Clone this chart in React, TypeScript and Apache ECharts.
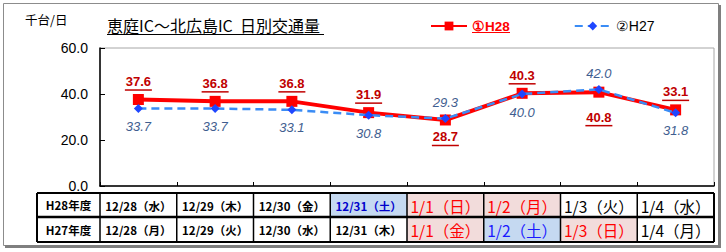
import React, { useEffect, useRef } from "react";
import * as echarts from "echarts";

const categories = ["12/28", "12/29", "12/30", "12/31", "1/1", "1/2", "1/3", "1/4"];
const h28Values = [37.6, 36.8, 36.8, 31.9, 28.7, 40.3, 40.8, 33.1];
const h27Values = [33.7, 33.7, 33.1, 30.8, 29.3, 40.0, 42.0, 31.8];
const h28BelowLabels = [4, 6];
const h27AboveLabels = [4, 6];
const yTicks = [0, 20, 40, 60];

const rowHeaders = ["H28年度", "H27年度"];
const h28Dates = ["12/28（水）", "12/29（木）", "12/30（金）", "12/31（土）", "1/1（日）", "1/2（月）", "1/3（火）", "1/4（水）"];
const h27Dates = ["12/28（月）", "12/29（火）", "12/30（水）", "12/31（木）", "1/1（金）", "1/2（土）", "1/3（日）", "1/4（月）"];
// day kinds: n = weekday, s = saturday, h = sunday / holiday
const h28Kinds = ["n", "n", "n", "s", "h", "h", "n", "n"];
const h27Kinds = ["n", "n", "n", "n", "h", "s", "h", "n"];

const TITLE = "恵庭IC～北広島IC  日別交通量";
const UNIT = "千台/日";
const S28 = "①H28";
const S27 = "②H27";

const JP = '"Noto Sans CJK JP", sans-serif';
const AR = '"Liberation Sans", Arial, sans-serif';

export default function App() {
  const ref = useRef<HTMLDivElement>(null);
  useEffect(() => {
    if (!ref.current) return;
    const chart = echarts.init(ref.current, undefined, { renderer: "svg" });
    const option: any = {
      animation: false,
      backgroundColor: "#ffffff",
      grid: { left: 100, right: 12, top: 48, bottom: 66, show: true, borderColor: "#a6a6a6", borderWidth: 1, backgroundColor: "transparent" },
      legend: {
        left: 425,
        top: 14,
        itemWidth: 36,
        itemHeight: 11,
        itemGap: 64,
        data: [S28, S27],
        formatter: (n: string) => (n === S28 ? `{a|${n}}` : `{b|${n}}`),
        textStyle: {
          rich: {
            a: { fontFamily: AR, fontSize: 13.5, fontWeight: "bold", color: "#ff0000" },
            b: { fontFamily: AR, fontSize: 14, color: "#000000" },
          },
        },
      },
      xAxis: {
        type: "category",
        data: categories,
        boundaryGap: true,
        axisLine: { lineStyle: { color: "#000", width: 1.5 } },
        axisTick: { show: true, inside: true, length: 4, lineStyle: { color: "#000" } },
        axisLabel: { show: false },
        splitLine: { show: false },
      },
      yAxis: {
        type: "value",
        min: yTicks[0],
        max: yTicks[yTicks.length - 1],
        interval: yTicks[1] - yTicks[0],
        axisLine: { show: true, lineStyle: { color: "#000", width: 1.5 } },
        axisTick: { show: true, inside: true, length: 5, lineStyle: { color: "#000" } },
        axisLabel: { formatter: (v: number) => v.toFixed(1), fontFamily: AR, fontSize: 14, color: "#000", margin: 12 },
        splitLine: { show: false },
      },
      series: [
        {
          name: S28,
          type: "line",
          z: 2,
          data: h28Values.map((v, i) => ({
            value: v,
            label: h28BelowLabels.includes(i)
              ? { position: "bottom", distance: i === 6 ? 12 : 4 }
              : { position: "top", distance: 3 },
          })),
          symbol: "rect",
          symbolSize: 11,
          color: "#ff0000",
          itemStyle: { color: "#ff0000" },
          lineStyle: { color: "#ff0000", width: 4 },
          label: {
            show: true,
            formatter: (p: any) => `{v|${Number(p.value).toFixed(1)}}\n{u| }`,
            rich: {
              v: { fontFamily: AR, fontSize: 13, fontWeight: "bold", color: "#c00000", lineHeight: 15, align: "center" },
              u: { width: 27, height: 1.5, lineHeight: 2, backgroundColor: "#c00000", fontSize: 1, align: "center" },
            },
          },
        },
        {
          name: S27,
          type: "line",
          z: 3,
          data: h27Values.map((v, i) => ({
            value: v,
            label: h27AboveLabels.includes(i)
              ? { position: "top", distance: 5 }
              : { position: "bottom", distance: 7 },
          })),
          symbol: "diamond",
          symbolSize: 9,
          color: "#3a8cf5",
          itemStyle: { color: "#1f47ff" },
          lineStyle: { color: "#3a8cf5", width: 2.5, type: [8, 5] },
          label: {
            show: true,
            formatter: (p: any) => Number(p.value).toFixed(1),
            fontFamily: AR,
            fontSize: 13,
            fontStyle: "italic",
            color: "#3f5e90",
          },
        },
      ],
    };
    chart.setOption(option);

    // Build the date table and decorations from the axis layout
    const c0 = chart.convertToPixel({ xAxisIndex: 0 }, 0) as number;
    const c1 = chart.convertToPixel({ xAxisIndex: 0 }, 1) as number;
    const band = c1 - c0;
    const leftEdge = c0 - band / 2;
    const tableLeft = 37;
    const rowTop = [193, 217];
    const rowH = [24, 25];
    const tableBottom = 242;
    const rightEdge = leftEdge + band * categories.length;

    const g: any[] = [];
    // outer frame
    g.push({ type: "rect", shape: { x: 3.5, y: 3.5, width: 715, height: 242 }, style: { fill: "none", stroke: "#8c8c8c", lineWidth: 1 }, z: 0 });
    g.push({ type: "line", shape: { x1: 719.5, y1: 5, x2: 719.5, y2: 248 }, style: { stroke: "#7f7f7f", lineWidth: 3 } });
    g.push({ type: "line", shape: { x1: 5, y1: 246.5, x2: 721, y2: 246.5 }, style: { stroke: "#7f7f7f", lineWidth: 3 } });
    // unit & title
    g.push({ type: "text", x: 25, y: 19, style: { text: UNIT, font: `12.5px ${JP}`, fill: "#000", verticalAlign: "middle" } });
    g.push({ type: "text", x: 107, y: 25, style: { text: TITLE, font: `16px ${JP}`, fill: "#000", verticalAlign: "middle" } });
    g.push({ type: "line", shape: { x1: 107, y1: 34.5, x2: 324, y2: 34.5 }, style: { stroke: "#000", lineWidth: 1 } });
    // legend underline
    g.push({ type: "line", shape: { x1: 472, y1: 32.5, x2: 510, y2: 32.5 }, style: { stroke: "#ff0000", lineWidth: 1 } });

    const kindBg: Record<string, string> = { n: "#ffffff", s: "#c5d9f1", h: "#f2dcdb" };
    const kindFg: Record<string, string> = { n: "#000000", s: "#0000ff", h: "#ff0000" };
    const rows = [
      { dates: h28Dates, kinds: h28Kinds },
      { dates: h27Dates, kinds: h27Kinds },
    ];
    rows.forEach((r, ri) => {
      const y = rowTop[ri];
      const h = rowH[ri];
      g.push({ type: "rect", shape: { x: tableLeft, y, width: leftEdge - tableLeft, height: h }, style: { fill: "#fff" } });
      g.push({
        type: "text", x: (tableLeft + leftEdge) / 2, y: y + h / 2,
        style: { text: rowHeaders[ri], font: `bold 11.5px ${JP}`, fill: "#000", align: "center", verticalAlign: "middle" },
      });
      r.dates.forEach((d, ci) => {
        const cx = chart.convertToPixel({ xAxisIndex: 0 }, ci) as number;
        const x = cx - band / 2;
        const k = r.kinds[ci];
        g.push({ type: "rect", shape: { x, y, width: band, height: h }, style: { fill: kindBg[k] } });
        const big = ci >= 4;
        g.push({
          type: "text", x: cx, y: y + h / 2 + 0.5,
          style: {
            text: d,
            font: big ? `15.5px ${JP}` : `bold 11.5px ${JP}`,
            fill: k === "n" ? "#000" : k === "s" ? (big ? "#1a1aff" : "#0000cc") : kindFg[k],
            align: "center", verticalAlign: "middle",
          },
        });
      });
    });
    // table grid lines
    const vx = [tableLeft, leftEdge];
    for (let i = 1; i <= categories.length; i++) vx.push(leftEdge + band * i);
    vx.forEach((x, i) => {
      g.push({ type: "line", shape: { x1: x, y1: rowTop[0], x2: x, y2: tableBottom }, style: { stroke: "#000", lineWidth: i === 0 || i === vx.length - 1 ? 2 : 1.5 } });
    });
    g.push({ type: "line", shape: { x1: tableLeft, y1: rowTop[0], x2: rightEdge, y2: rowTop[0] }, style: { stroke: "#000", lineWidth: 2 } });
    g.push({ type: "line", shape: { x1: tableLeft, y1: rowTop[1], x2: rightEdge, y2: rowTop[1] }, style: { stroke: "#000", lineWidth: 2.5 } });
    g.push({ type: "line", shape: { x1: tableLeft, y1: tableBottom, x2: rightEdge, y2: tableBottom }, style: { stroke: "#000", lineWidth: 2 } });

    chart.setOption({ graphic: g });
    return () => chart.dispose();
  }, []);
  return <div ref={ref} style={{ position: "fixed", left: 0, top: 0, width: 726, height: 252 }} />;
}
